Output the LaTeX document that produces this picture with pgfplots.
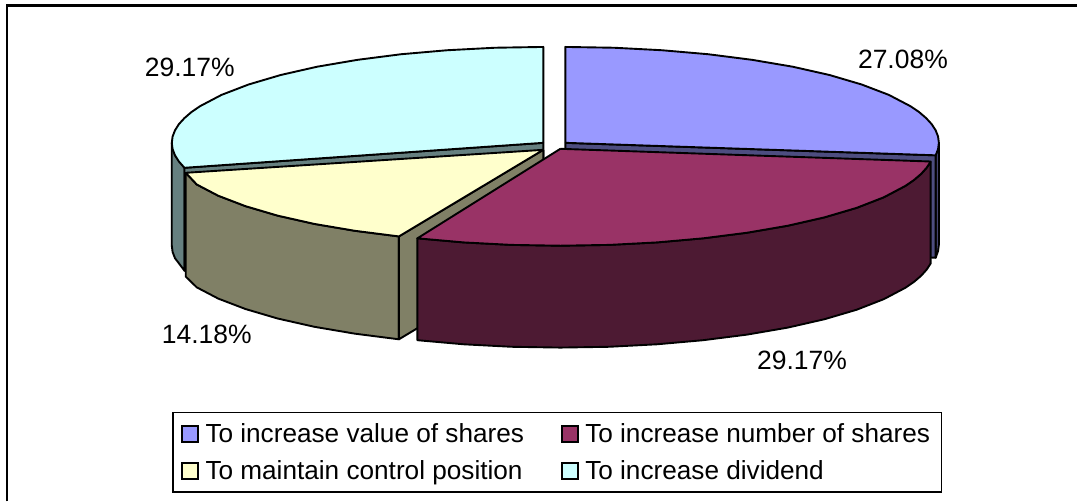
\documentclass[border=0pt]{standalone}
\usepackage{pgfplots}
\pgfplotsset{compat=1.18}
\usepackage{fontspec}
\setmainfont{Liberation Sans}
\definecolor{blueT}{HTML}{9999FF}\definecolor{blueD}{HTML}{4D4D80}
\definecolor{redT}{HTML}{993366}\definecolor{redD}{HTML}{4D1A33}
\definecolor{yelT}{HTML}{FFFFCC}\definecolor{yelD}{HTML}{808066}
\definecolor{cyaT}{HTML}{CCFFFF}\definecolor{cyaD}{HTML}{668080}
\pgfplotsset{
  swatch/.style={legend image code/.code={\draw[fill=#1,draw=black,line width=1.7pt] (0pt,-8pt) rectangle (16pt,8pt);\path (19.5pt,0pt);}},
  face/.style={fill=#1,draw=black,line width=1.9pt,line join=round,forget plot}
}
\begin{document}
\begin{tikzpicture}
\begin{axis}[
  scale only axis,width=1078pt,height=502pt,
  xmin=0,xmax=1078,ymin=0,ymax=502,y dir=reverse,
  hide axis,clip=false,
  legend columns=2,
  legend style={at={(axis cs:172,412)},anchor=north west,draw=black,line width=1.9pt,
    font=\fontsize{26.2}{28}\selectfont,inner xsep=8.5pt,inner ysep=8pt,
    /tikz/every even column/.append style={column sep=34pt},
    /tikz/nodes={inner sep=3pt},row sep=11pt,legend cell align=left},
]
\addlegendimage{swatch=blueT}
\addlegendimage{swatch=redT}
\addlegendimage{swatch=yelT}
\addlegendimage{swatch=cyaT}
% page extent
\addplot[draw=none,forget plot] coordinates {(0,0) (1078,502)};
% frame
\addplot[draw=black,line width=2.6pt,forget plot] coordinates {(7,502) (7,5.5) (1078,5.5)};
% cyan slice: wall, cut face, top
\addplot[face=cyaD] coordinates {(172,143) (172,246) (172.8,252.3) (175.2,258.5) (184.7,271) (184.7,168) (175.2,155.5) (172,143)};
\addplot[face=cyaD] coordinates {(544,143) (184.7,168) (184.7,271) (544,246) (544,143)};
\addplot[face=cyaT] coordinates {(544,143) (544,47) (495.5,47.8) (447.7,50.3) (401.6,54.3) (358,59.9) (317.5,66.8) (281,75.1) (248.9,84.6) (221.8,95) (200.3,106.3) (191.8,112.1) (184.7,118.2) (179.1,124.3) (175.2,130.5) (172.8,136.7) (172,143) (172.8,149.3) (175.2,155.5) (179.1,161.7) (184.7,168) (544,143)};
% blue slice
\addplot[face=blueD] coordinates {(940,143) (940,245) (939.2,251.3) (936.8,258) (936.8,155.5) (940,143)};
\addplot[face=blueD] coordinates {(566,143) (936.8,155.5) (936.8,258) (566,245) (566,143)};
\addplot[face=blueT] coordinates {(566,143) (566,47) (614.8,47.8) (662.8,50.3) (709.1,54.3) (753,59.9) (793.7,66.8) (830.5,75.1) (862.7,84.6) (889.9,95) (911.5,106.3) (920.1,112.1) (927.2,118.2) (932.8,124.3) (936.8,130.5) (939.2,136.7) (940,143) (939.2,149.3) (936.8,155.5) (566,143)};
% yellow slice
\addplot[face=yelD] coordinates {(186,173) (197,184.7) (218.6,196) (245.8,206.4) (278,215.9) (314.8,224.2) (355.5,231.1) (399.4,236.7) (399.4,339.7) (355.5,334.1) (314.8,327.2) (278,318.9) (245.8,309.4) (218.6,299) (197,287.7) (186,277) (186,173)};
\addplot[face=yelD] coordinates {(544,150) (399.4,236.7) (399.4,339.7) (544,253) (544,150)};
\addplot[face=yelT] coordinates {(544,150) (186,173) (197,184.7) (218.6,196) (245.8,206.4) (278,215.9) (314.8,224.2) (355.5,231.1) (399.4,236.7) (544,150)};
% red slice
\addplot[face=redD] coordinates {(931.8,161.7) (927.8,167.9) (922.2,174.1) (915.1,180.2) (906.5,186.1) (884.9,197.5) (857.7,208.1) (825.5,217.6) (788.7,226) (748,233) (704.1,238.6) (657.8,242.7) (609.8,245.2) (561,246) (512.2,245.2) (464.2,242.7) (417.9,238.6) (417.9,340.6) (464.2,344.7) (512.2,347.2) (561,348) (609.8,347.2) (657.8,344.7) (704.1,340.6) (748,335) (788.7,328) (825.5,319.6) (857.7,310.1) (884.9,299.5) (906.5,288.1) (915.1,282.2) (922.2,276.1) (927.8,269.9) (931.8,263.7) (931.8,161.7)};
\addplot[face=redT] coordinates {(561,149) (931.8,161.7) (927.8,167.9) (922.2,174.1) (915.1,180.2) (906.5,186.1) (884.9,197.5) (857.7,208.1) (825.5,217.6) (788.7,226) (748,233) (704.1,238.6) (657.8,242.7) (609.8,245.2) (561,246) (512.2,245.2) (464.2,242.7) (417.9,238.6) (561,149)};
% data labels
\node[font=\fontsize{26.5}{28}\selectfont] at (axis cs:904,59) {27.08\%};
\node[font=\fontsize{26.5}{28}\selectfont] at (axis cs:190,67) {29.17\%};
\node[font=\fontsize{26.5}{28}\selectfont] at (axis cs:207,335) {14.18\%};
\node[font=\fontsize{26.5}{28}\selectfont] at (axis cs:803,361) {29.17\%};
\legend{To increase value of shares,To increase number of shares,To maintain control position,To increase dividend}
\end{axis}
\end{tikzpicture}
\end{document}
